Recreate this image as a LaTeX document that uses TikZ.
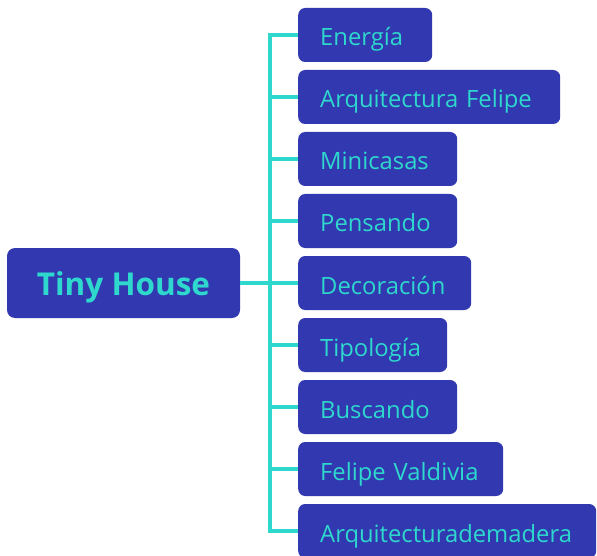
\documentclass[tikz,border=0pt]{standalone}
\usepackage{fontspec}
\setmainfont{Open Sans}
\definecolor{boxblue}{HTML}{3138B0}
\definecolor{turq}{HTML}{2ED8CC}
\tikzset{
  leaf/.style={anchor=west, fill=boxblue, rounded corners=7pt, minimum height=54pt,
    inner xsep=22pt, inner ysep=0pt, text width=#1, align=left, text=turq,
    text height=24pt, text depth=2pt,
    font=\fontsize{23.8}{26}\selectfont},
  rootbox/.style={fill=boxblue, rounded corners=8pt, minimum width=233pt, minimum height=70pt,
    text=turq, text height=28pt, text depth=4pt, font=\bfseries\fontsize{31.5}{36}\selectfont},
  link/.style={draw=turq, line width=4pt}
}
\begin{document}
\begin{tikzpicture}[x=1pt,y=1pt]
\useasboundingbox (0,0) rectangle (597,-556);
\node[rootbox] (root) at (123.5,-283) {Tiny House};
\node[leaf=90pt]  (c1) at (298,-35)  {Energía};
\node[leaf=218pt] (c2) at (298,-97)  {Arquitectura Felipe};
\node[leaf=115pt] (c3) at (298,-159) {Minicasas};
\node[leaf=115pt] (c4) at (298,-221) {Pensando};
\node[leaf=129pt] (c5) at (298,-283) {Decoración};
\node[leaf=105pt] (c6) at (298,-345) {Tipología};
\node[leaf=115pt] (c7) at (298,-407) {Buscando};
\node[leaf=161pt] (c8) at (298,-469) {Felipe Valdivia};
\node[leaf=254pt] (c9) at (298,-531) {Arquitecturademadera};
\begin{scope}[on background layer/.try]
\draw[link] (root.east) -- (c5.west);
\draw[link] (c1.west) -- ++(-28,0) |- (c9.west);
\foreach \n in {c2,c3,c4,c6,c7,c8} \draw[link] (\n.west) -- ++(-28,0);
\end{scope}
\end{tikzpicture}
\end{document}
